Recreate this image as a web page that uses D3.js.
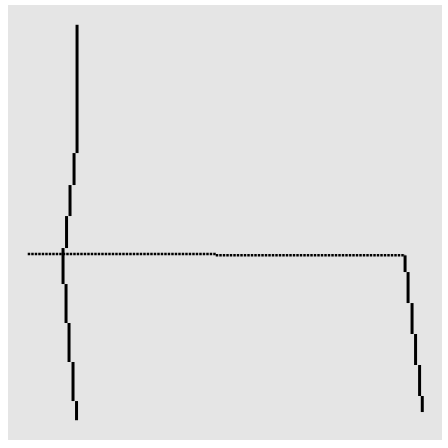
<!DOCTYPE html>
<html>
<head>
<meta charset="utf-8">
<script src="https://cdn.jsdelivr.net/npm/d3@7"></script>
<style>
  html, body { margin: 0; padding: 0; background: #ffffff; }
  svg { display: block; }
</style>
</head>
<body>
<svg id="chart" width="448" height="448"></svg>
<script>
// ---- data (data units, x and y both on 0..100) ----
// left staircase: vertical segments (x, yTop, yBottom)
const leftX    = [12.50, 11.74, 10.72, 9.84, 8.95, 9.71, 10.47, 11.48, 12.37];
const leftYTop = [100,   67.56, 59.47, 51.63, 43.54, 34.44, 24.58, 14.72, 4.85];
const leftYBot = [67.56, 59.47, 51.63, 43.54, 34.44, 24.58, 14.72, 4.85, 0];

// horizontal dotted run (x start, x end, y)
const horizX0 = [0,     47.66];
const horizX1 = [47.66, 95.64];
const horizY  = [42.02, 41.69];

// right staircase: vertical segments
const rightX    = [95.64, 96.40, 97.41, 98.30, 99.32, 100];
const rightYTop = [41.69, 37.47, 29.63, 21.80, 13.96, 6.12];
const rightYBot = [37.47, 29.63, 21.80, 13.96, 6.12, 2.07];

// ---- layout ----
const svg = d3.select("#chart");
const panel = { left: 8, top: 5, right: 442, bottom: 440 };
const expand = 0.05;
const xDom = [0, 100], yDom = [0, 100];
const xPad = (xDom[1] - xDom[0]) * expand, yPad = (yDom[1] - yDom[0]) * expand;

const x = d3.scaleLinear().domain([xDom[0] - xPad, xDom[1] + xPad]).range([panel.left, panel.right]);
const y = d3.scaleLinear().domain([yDom[0] - yPad, yDom[1] + yPad]).range([panel.bottom, panel.top]);

svg.append("rect")
  .attr("x", panel.left).attr("y", panel.top)
  .attr("width", panel.right - panel.left)
  .attr("height", panel.bottom - panel.top)
  .attr("fill", "#E5E5E5");

const g = svg.append("g");

// horizontal dotted line
g.selectAll("line.h")
  .data(horizX0.map((d, i) => ({ x0: d, x1: horizX1[i], y: horizY[i] })))
  .join("line")
  .attr("class", "h")
  .attr("x1", d => x(d.x0)).attr("x2", d => x(d.x1))
  .attr("y1", d => y(d.y)).attr("y2", d => y(d.y))
  .attr("stroke", "#000")
  .attr("stroke-width", 2.5)
  .attr("stroke-dasharray", "2.5,1");

function verticals(cls, xs, tops, bots) {
  g.selectAll("line." + cls)
    .data(xs.map((d, i) => ({ x: d, t: tops[i], b: bots[i] })))
    .join("line")
    .attr("class", cls)
    .attr("x1", d => x(d.x)).attr("x2", d => x(d.x))
    .attr("y1", d => y(d.t)).attr("y2", d => y(d.b))
    .attr("stroke", "#000")
    .attr("stroke-width", 3);
}
verticals("l", leftX, leftYTop, leftYBot);
verticals("r", rightX, rightYTop, rightYBot);
</script>
</body>
</html>
